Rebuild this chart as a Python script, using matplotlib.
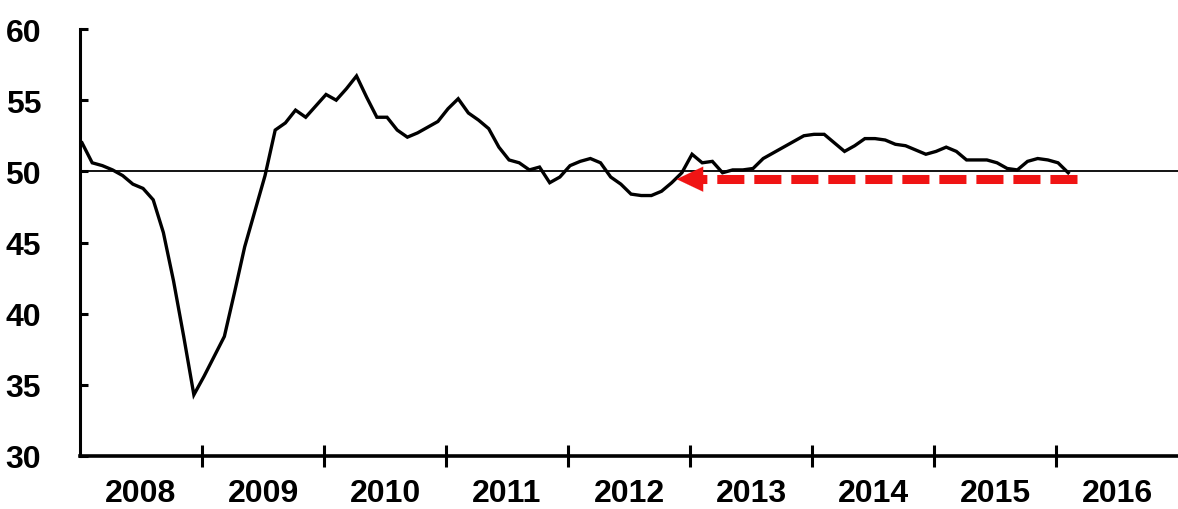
import numpy as np
import matplotlib
matplotlib.use("Agg")
from matplotlib import pyplot as plt

# monthly index readings, Jan 2008 .. Feb 2016
pmi = [
    52.0, 50.6, 50.4, 50.1, 49.7, 49.1, 48.8, 48.0, 45.7, 42.3, 38.4, 34.3,  # 2008
    35.6, 37.0, 38.4, 41.5, 44.7, 47.2, 49.7, 52.9, 53.4, 54.3, 53.8, 54.6,  # 2009
    55.4, 55.0, 55.8, 56.7, 55.2, 53.8, 53.8, 52.9, 52.4, 52.7, 53.1, 53.5,  # 2010
    54.4, 55.1, 54.1, 53.6, 53.0, 51.7, 50.8, 50.6, 50.1, 50.3, 49.2, 49.6,  # 2011
    50.4, 50.7, 50.9, 50.6, 49.6, 49.1, 48.4, 48.3, 48.3, 48.6, 49.2, 49.9,  # 2012
    51.2, 50.6, 50.7, 49.9, 50.1, 50.1, 50.2, 50.9, 51.3, 51.7, 52.1, 52.5,  # 2013
    52.6, 52.6, 52.0, 51.4, 51.8, 52.3, 52.3, 52.2, 51.9, 51.8, 51.5, 51.2,  # 2014
    51.4, 51.7, 51.4, 50.8, 50.8, 50.8, 50.6, 50.2, 50.1, 50.7, 50.9, 50.8,  # 2015
    50.6, 49.9,                                                              # 2016
]
start_year = 2008
years = list(range(2008, 2017))
threshold = 50

# red arrow: from Feb 2016 back to late 2012, just under the 50 line
arrow_from = 2016.17
arrow_to = 2012.89
arrow_level = 49.45

months = start_year + (np.arange(len(pmi)) + 0.2) / 12

font = ["Liberation Sans", "DejaVu Sans"]
red = "#f01414"

fig = plt.figure(figsize=(11.78, 5.10), dpi=100)
ax = fig.add_axes([80 / 1178, 53 / 510, 1098 / 1178, 427 / 510])

ax.plot(months, pmi, color="black", lw=2.4, solid_joinstyle="miter", zorder=3)
ax.axhline(threshold, color="black", lw=1.3, zorder=2)

# dashed shaft drawn from the right so the dash pattern starts at the tail
head_len = 0.21
ax.plot([arrow_from, arrow_to + head_len], [arrow_level, arrow_level],
        color=red, lw=6.5, dashes=(3.0, 1.1),
        dash_capstyle="butt", zorder=4)
ax.annotate("", xy=(arrow_to, arrow_level), xytext=(arrow_to + head_len, arrow_level),
            arrowprops=dict(arrowstyle="-|>,head_length=0.95,head_width=0.45",
                            mutation_scale=20, color=red, lw=0.1,
                            shrinkA=0, shrinkB=0),
            zorder=4)

ax.set_xlim(years[0], years[-1] + 1)
ax.set_ylim(30, 60)

for side in ["top", "right"]:
    ax.spines[side].set_visible(False)
ax.spines["left"].set_linewidth(2.2)
ax.spines["bottom"].set_linewidth(2.6)

ax.set_yticks(np.arange(30, 61, 5))
ax.tick_params(axis="y", direction="in", length=6, width=2.2, pad=28,
               labelsize=23)
for lab in ax.get_yticklabels():
    lab.set_family(font)
    lab.set_fontweight("bold")

ax.set_xticks(years[1:])
ax.set_xticklabels([])
ax.set_xticks([y + 0.5 for y in years], minor=True)
ax.set_xticklabels([str(y) for y in years], minor=True)
ax.tick_params(axis="x", which="major", direction="inout", length=16, width=2.2)
ax.tick_params(axis="x", which="minor", length=0, pad=16, labelsize=23)
for lab in ax.get_xticklabels(minor=True):
    lab.set_family(font)
    lab.set_fontweight("bold")

fig.savefig("out.png", dpi=100)
